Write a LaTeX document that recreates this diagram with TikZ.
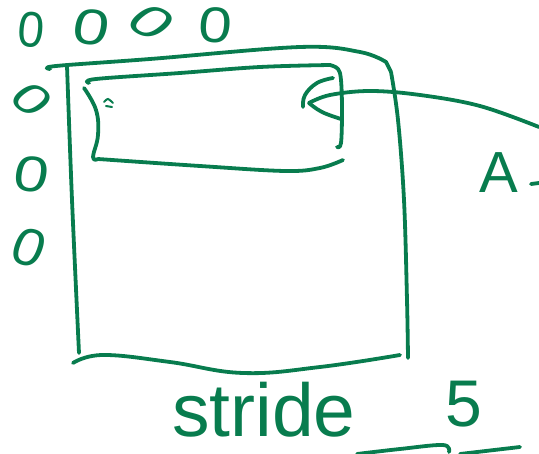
\documentclass[tikz,border=0pt]{standalone}
\usepackage{fontspec}
\setmainfont{Liberation Sans}
\definecolor{ink}{RGB}{8,124,78}
\tikzset{
  pen/.style={draw=ink, line width=3.8pt, line cap=round, line join=round},
  digit/.style={text=ink, inner sep=0pt, font=\fontsize{50}{54}\selectfont},
  bigtext/.style={text=ink, inner sep=0pt, font=\fontsize{75}{78}\selectfont},
}
\begin{document}
\begin{tikzpicture}[x=1pt,y=-1pt]
\useasboundingbox (0,0) rectangle (539,454);
% zeros along top
\node[digit, xscale=0.95, rotate=-6] (z1) at (31,30) {0};
\node[digit, xscale=1.3, rotate=-8] (z2) at (92,27) {0};
\node[digit, xscale=1.45, rotate=-40, yscale=0.85] (z3) at (152,22) {0};
\node[digit, xscale=1.2, rotate=-4] (z4) at (216,25) {0};
% zeros down left side
\node[digit, xscale=1.3, rotate=-45, yscale=0.8] (z5) at (32,100) {0};
\node[digit, xscale=1.25, rotate=-8] (z6) at (32,174) {0};
\node[digit, xscale=1.15, rotate=-18, yscale=1.05] (z7) at (29,248) {0};
% outer box
\path[pen] plot[smooth, tension=0.6] coordinates {(50,69) (56,66) (150,59) (300,47) (360,52) (386,62)}
  -- (391,72) plot[smooth, tension=0.6] coordinates {(391,72) (398,120) (404,200) (407,300) (408,358)};
\path[pen] plot[smooth] coordinates {(67,66) (72,200) (79,353)};
\path[pen] plot[smooth, tension=0.7] coordinates {(73,363) (103,355) (170,362) (243,373) (320,367) (400,355)};
% inner box
\path[pen] plot[smooth, tension=0.6] coordinates {(89,83) (96,79) (180,73) (260,67) (330,65)}
  plot[smooth, tension=0.6] coordinates {(330,65) (338,69) (341,80) (342,110) (341,143) (337,147)};
\path[pen] plot[smooth, tension=0.7] coordinates {(84,88) (96,110) (98,135) (93,157) (98,159)};
\path[pen] plot[smooth, tension=0.6] coordinates {(98,159) (200,166) (285,171) (320,168) (343,160)};
% small mark
\path[draw=ink, line width=2pt, line cap=round] plot[smooth] coordinates {(104,102) (108,99) (113,103)};
\path[draw=ink, line width=2pt, line cap=round] (106,106) -- (112,107);
% loop and long curve
\path[pen] plot[smooth, tension=0.7] coordinates {(333,78) (317,83) (305,95) (303,107)};
\path[pen] plot[smooth, tension=0.7] coordinates {(309,103) (322,112) (341,119)};
\path[pen] plot[smooth, tension=0.6] coordinates {(309,103) (330,95) (370,91) (420,95) (480,106) (539,127)};
% right letter
\node[text=ink, inner sep=0pt, font=\fontsize{58}{60}\selectfont] (a) at (499,173) {A};
\path[pen] (531,184) -- (539,183);
% stride 5
\node[bigtext, anchor=base west] (stride) at (172,437) {stride};
\node[text=ink, inner sep=0pt, font=\fontsize{66}{70}\selectfont] (five) at (464,404) {5};
% bottom strokes
\path[pen] plot[smooth, tension=0.6] coordinates {(357,454) (400,449) (443,445) (449,452)};
\path[pen] (460,454) -- (520,447);
\end{tikzpicture}
\end{document}
